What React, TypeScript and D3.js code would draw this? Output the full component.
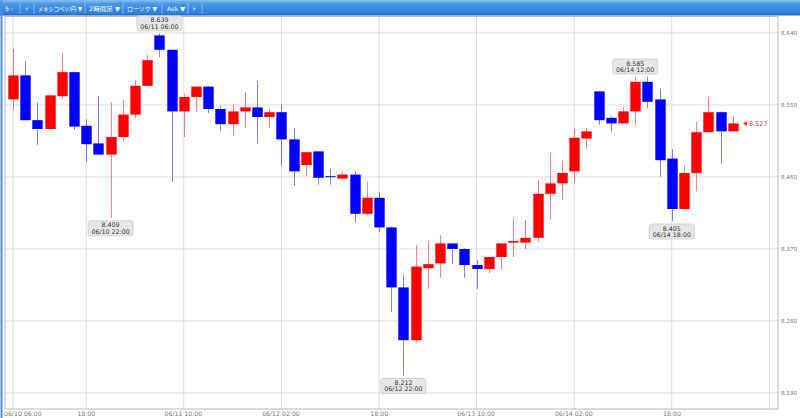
import * as d3 from "d3";

// 2時間足 ローソク (メキシコペソ/円, Ask)
const opens = [
  8.557, 8.587, 8.531, 8.520, 8.561, 8.591, 8.524, 8.502, 8.488, 8.510,
  8.538, 8.574, 8.637, 8.619, 8.542, 8.560, 8.573, 8.545, 8.526, 8.542,
  8.547, 8.535, 8.541, 8.507, 8.475, 8.492, 8.461, 8.458, 8.463, 8.414,
  8.434, 8.397, 8.322, 8.256, 8.346, 8.352, 8.377, 8.370, 8.350, 8.345,
  8.360, 8.378, 8.378, 8.384, 8.439, 8.452, 8.467, 8.508, 8.567, 8.534,
  8.527, 8.542, 8.579, 8.557, 8.483, 8.420, 8.465, 8.516, 8.541, 8.517,
];
const highs = [
  8.620, 8.605, 8.553, 8.563, 8.615, 8.592, 8.532, 8.561, 8.553, 8.557,
  8.581, 8.613, 8.639, 8.620, 8.564, 8.573, 8.573, 8.549, 8.551, 8.566,
  8.580, 8.545, 8.551, 8.521, 8.491, 8.492, 8.470, 8.467, 8.467, 8.454,
  8.441, 8.398, 8.338, 8.375, 8.380, 8.387, 8.377, 8.371, 8.356, 8.360,
  8.377, 8.408, 8.406, 8.456, 8.490, 8.480, 8.520, 8.521, 8.567, 8.536,
  8.547, 8.585, 8.585, 8.570, 8.495, 8.474, 8.529, 8.560, 8.542, 8.536,
];
const lows = [
  8.544, 8.531, 8.500, 8.519, 8.558, 8.519, 8.479, 8.488, 8.409, 8.505,
  8.533, 8.574, 8.610, 8.454, 8.510, 8.542, 8.540, 8.517, 8.511, 8.522,
  8.502, 8.522, 8.474, 8.449, 8.462, 8.450, 8.450, 8.458, 8.403, 8.412,
  8.391, 8.291, 8.212, 8.253, 8.320, 8.334, 8.352, 8.334, 8.320, 8.340,
  8.344, 8.360, 8.370, 8.379, 8.407, 8.432, 8.453, 8.495, 8.525, 8.516,
  8.527, 8.524, 8.546, 8.460, 8.405, 8.419, 8.442, 8.516, 8.477, 8.517,
];
const closes = [
  8.587, 8.531, 8.520, 8.562, 8.591, 8.523, 8.501, 8.488, 8.510, 8.538,
  8.574, 8.606, 8.619, 8.542, 8.560, 8.573, 8.545, 8.526, 8.542, 8.547,
  8.535, 8.541, 8.507, 8.467, 8.491, 8.459, 8.460, 8.463, 8.414, 8.434,
  8.397, 8.322, 8.256, 8.348, 8.351, 8.377, 8.370, 8.350, 8.345, 8.360,
  8.377, 8.380, 8.384, 8.439, 8.452, 8.465, 8.509, 8.517, 8.531, 8.527,
  8.542, 8.579, 8.554, 8.481, 8.420, 8.465, 8.516, 8.541, 8.517, 8.527,
];

const startTime = new Date(Date.UTC(2024, 5, 10, 6));
const barHours = 2;

const yTicks = [8.19, 8.28, 8.37, 8.46, 8.55, 8.64];
const xTickTimes = [
  "2024-06-10T06:00Z", "2024-06-10T18:00Z", "2024-06-11T10:00Z", "2024-06-12T02:00Z",
  "2024-06-12T18:00Z", "2024-06-13T10:00Z", "2024-06-14T02:00Z", "2024-06-14T18:00Z",
  "2024-06-15T10:00Z",
];
const xTickLabels = [
  "06/10 06:00", "18:00", "06/11 10:00", "06/12 02:00",
  "18:00", "06/13 10:00", "06/14 02:00", "18:00", "",
];

// 高値・安値の吹き出し
const markIdx = [12, 8, 32, 51, 54];
const markSide = ["high", "low", "low", "high", "low"];

const toolbarItems = ["5 :", "<", "メキシコペソ/円 ▼", "2時間足 ▼", "ローソク ▼", "Ask ▼", ">"];
const toolbarX = [5, 25, 38, 89, 127, 167, 192];
const toolbarW = [8, 3.5, 44, 31, 30, 18, 4];
const toolbarSeps = [20, 34, 85, 123, 162, 188, 202];

const W = 800;
const H = 418;
const frame = { left: 5, right: 778, top: 16.5, bottom: 409 };
const font = "'DejaVu Sans', 'Noto Sans CJK JP', sans-serif";

export default function App() {
  const n = closes.length;
  const times = d3.range(n).map((i) => d3.utcHour.offset(startTime, i * barHours));

  const x = d3
    .scaleUtc()
    .domain([times[0], times[n - 1]])
    .range([13, 13 + (n - 1) * 12.2]);
  const y = d3.scaleLinear().domain([8.19, 8.64]).range([393, 33]);

  const bodyW = 10.4;
  const fmt = d3.utcFormat("%m/%d %H:%M");
  const last = closes[n - 1];

  return (
    <svg
      width={W}
      height={H}
      style={{ position: "absolute", left: 0, top: 0, background: "#fff" }}
      fontFamily={font}
    >
      <defs>
        <linearGradient id="tb" x1="0" y1="0" x2="0" y2="1">
          <stop offset="0" stopColor="#8cc0f0" />
          <stop offset="0.25" stopColor="#4a97e6" />
          <stop offset="1" stopColor="#2a7ad8" />
        </linearGradient>
        <clipPath id="plot">
          <rect x={frame.left} y={frame.top} width={frame.right - frame.left} height={frame.bottom - frame.top} />
        </clipPath>
      </defs>

      {/* toolbar */}
      <rect x={0} y={0} width={W} height={15} fill="url(#tb)" />
      <line x1={0} x2={W} y1={15} y2={15} stroke="#1f63b5" />
      {toolbarSeps.map((sx, i) => (
        <line key={"s" + i} x1={sx} x2={sx} y1={2} y2={14} stroke="#8fbef0" strokeWidth={0.8} />
      ))}
      {toolbarItems.map((t, i) => (
        <text
          key={"t" + i}
          x={toolbarX[i]}
          y={10.5}
          fontSize={6}
          fill="#fff"
          textLength={toolbarW[i]}
          lengthAdjust="spacingAndGlyphs"
        >
          {t}
        </text>
      ))}
      <line x1={1.5} x2={1.5} y1={0} y2={H} stroke="#4a90e0" strokeWidth={2} />

      {/* grid */}
      {yTicks.map((v) => (
        <g key={"y" + v}>
          <line x1={frame.left} x2={frame.right + 3} y1={y(v)} y2={y(v)} stroke="#dcdcdc" />
          <text x={781} y={y(v) + 2} fontSize={5.6} fill="#777">
            {v.toFixed(3)}
          </text>
        </g>
      ))}
      {xTickTimes.map((s, i) => {
        const px = x(new Date(s));
        const lbl = xTickLabels[i];
        return (
          <g key={"x" + i}>
            <line x1={px} x2={px} y1={frame.top} y2={frame.bottom} stroke="#dcdcdc" />
            {lbl && (
              <text x={Math.max(4, px - lbl.length * 1.75)} y={416} fontSize={6.2} fill="#777">
                {lbl}
              </text>
            )}
          </g>
        );
      })}
      <rect
        x={frame.left}
        y={frame.top}
        width={frame.right - frame.left}
        height={frame.bottom - frame.top}
        fill="none"
        stroke="#b8b8b8"
      />

      {/* candles */}
      <g clipPath="url(#plot)">
        {times.map((t, i) => {
          const cx = Math.round(x(t)) + 0.5;
          const up = closes[i] >= opens[i];
          const col = up ? "#ff0000" : "#0000ff";
          const top = y(Math.max(opens[i], closes[i]));
          const bot = y(Math.min(opens[i], closes[i]));
          return (
            <g key={"c" + i}>
              <line x1={cx} x2={cx} y1={y(highs[i])} y2={y(lows[i])} stroke={col} strokeOpacity={0.5} />
              <rect x={cx - bodyW / 2} y={top} width={bodyW} height={Math.max(1, bot - top)} fill={col} />
            </g>
          );
        })}
      </g>

      {/* high / low callouts */}
      {markIdx.map((idx, k) => {
        const cx = x(times[idx]);
        const isHigh = markSide[k] === "high";
        const v = isHigh ? highs[idx] : lows[idx];
        const bw = 45;
        const bh = 15;
        const by = isHigh ? y(v) - 3 - bh : y(v) + 3;
        return (
          <g key={"m" + k}>
            <rect x={cx - bw / 2} y={by} width={bw} height={bh} rx={2} fill="#e6e6e6" stroke="#cccccc" strokeWidth={0.8} />
            <text x={cx} y={by + 6.5} textAnchor="middle" fontSize={6.3} fill="#333">
              {v.toFixed(3)}
            </text>
            <text x={cx} y={by + 13} textAnchor="middle" fontSize={6.3} fill="#333">
              {fmt(times[idx])}
            </text>
          </g>
        );
      })}

      {/* current price */}
      <path
        d={`M${743},${y(last)} L${747},${y(last) - 2.5} L${747},${y(last) + 2.5} Z`}
        fill="#e8343a"
      />
      <text x={749} y={y(last) + 2.3} fontSize={6.5} fill="#e8343a">
        {last.toFixed(3)}
      </text>
    </svg>
  );
}
